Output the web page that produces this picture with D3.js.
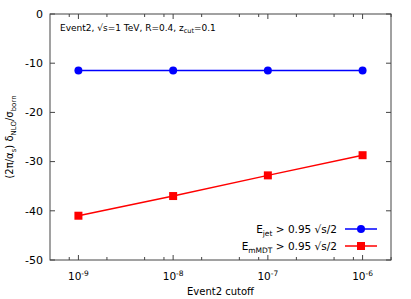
<!DOCTYPE html>
<html>
<head>
<meta charset="utf-8">
<script src="https://cdn.jsdelivr.net/npm/d3@7"></script>
<style>
  body { margin: 0; background: #fff; }
  text { font-family: "DejaVu Sans", sans-serif; fill: #000; }
</style>
</head>
<body>
<script>
// data
var cutoffs = [1e-9, 1e-8, 1e-7, 1e-6];
var ejet = [-11.5, -11.5, -11.5, -11.5];
var emmdt = [-41.0, -37.0, -32.8, -28.7];
var yTicks = [0, -10, -20, -30, -40, -50];
var xMajor = [1e-9, 1e-8, 1e-7, 1e-6];
var xMinor = [8e-10, 2e-9, 5e-9, 8e-9, 2e-8, 5e-8, 8e-8, 2e-7, 5e-7, 8e-7, 2e-6];

var margin = {top: 14, right: 20, bottom: 39, left: 50},
    width = 411 - margin.left - margin.right,
    height = 299 - margin.top - margin.bottom;

var x = d3.scaleLog().domain([Math.pow(10, -9.3), Math.pow(10, -5.7)]).range([0, width]);
var y = d3.scaleLinear().domain([-50, 0]).range([height, 0]);

var svg = d3.select("body").append("svg")
    .attr("width", 411)
    .attr("height", 299)
  .append("g")
    .attr("transform", "translate(" + margin.left + "," + margin.top + ")");

// frame
svg.append("rect")
    .attr("width", width).attr("height", height)
    .attr("fill", "none").attr("stroke", "#444").attr("stroke-width", 1);

// ticks (inward, mirrored)
function tickLines(vals, len, horiz) {
  vals.forEach(function(v) {
    if (horiz) {
      var px = x(v);
      svg.append("line").attr("x1", px).attr("x2", px).attr("y1", height).attr("y2", height - len).attr("stroke", "#444");
      svg.append("line").attr("x1", px).attr("x2", px).attr("y1", 0).attr("y2", len).attr("stroke", "#444");
    } else {
      var py = y(v);
      svg.append("line").attr("x1", 0).attr("x2", len).attr("y1", py).attr("y2", py).attr("stroke", "#444");
      svg.append("line").attr("x1", width).attr("x2", width - len).attr("y1", py).attr("y2", py).attr("stroke", "#444");
    }
  });
}
tickLines(xMajor, 5, true);
tickLines(xMinor, 3, true);
tickLines(yTicks, 5, false);

// y tick labels
svg.selectAll(".ylab").data(yTicks).enter().append("text")
    .attr("x", -7).attr("y", function(d) { return y(d); })
    .attr("dy", "0.35em").attr("text-anchor", "end")
    .style("font-size", "11px")
    .text(function(d) { return d; });

// x tick labels 10^n
xMajor.forEach(function(v) {
  var t = svg.append("text")
      .attr("x", x(v)).attr("y", height + 20)
      .attr("text-anchor", "middle")
      .style("font-size", "10.5px");
  t.append("tspan").text("10");
  t.append("tspan").attr("dy", "-4").style("font-size", "7.5px").text(Math.round(Math.log10(v)));
});

// axis labels
svg.append("text")
    .attr("x", width / 2).attr("y", height + 35)
    .attr("text-anchor", "middle").style("font-size", "10px")
    .text("Event2 cutoff");

var yl = svg.append("text")
    .attr("transform", "translate(" + (-37) + "," + (height / 2) + ") rotate(-90)")
    .attr("text-anchor", "middle").style("font-size", "10px");
yl.append("tspan").text("(2π/α");
yl.append("tspan").attr("dy", 3).style("font-size", "7px").text("s");
yl.append("tspan").attr("dy", -3).text(") δ");
yl.append("tspan").attr("dy", 3).style("font-size", "7px").text("NLO");
yl.append("tspan").attr("dy", -3).text("/σ");
yl.append("tspan").attr("dy", 3).style("font-size", "7px").text("born");

// annotation
var ann = svg.append("text")
    .attr("x", 10).attr("y", 17).style("font-size", "9px");
ann.append("tspan").text("Event2, √s=1 TeV, R=0.4, z");
ann.append("tspan").attr("dy", 2).style("font-size", "6.5px").text("cut");
ann.append("tspan").attr("dy", -2).text("=0.1");

var line = d3.line()
    .x(function(d, i) { return x(cutoffs[i]); })
    .y(function(d) { return y(d); });

// blue series
svg.append("path").datum(ejet)
    .attr("fill", "none").attr("stroke", "#0000ff").attr("stroke-width", 1.5)
    .attr("d", line);
svg.selectAll(".bdot").data(ejet).enter().append("circle")
    .attr("cx", function(d, i) { return x(cutoffs[i]); })
    .attr("cy", function(d) { return y(d); })
    .attr("r", 4).attr("fill", "#0000ff");

// red series
svg.append("path").datum(emmdt)
    .attr("fill", "none").attr("stroke", "#ff0000").attr("stroke-width", 1.5)
    .attr("d", line);
svg.selectAll(".rsq").data(emmdt).enter().append("rect")
    .attr("x", function(d, i) { return x(cutoffs[i]) - 4; })
    .attr("y", function(d) { return y(d) - 4; })
    .attr("width", 8).attr("height", 8).attr("fill", "#ff0000");

// legend
var legend = [
  {main: "E", sub: "jet", rest: " > 0.95 √s/2", color: "#0000ff", shape: "circle"},
  {main: "E", sub: "mMDT", rest: " > 0.95 √s/2", color: "#ff0000", shape: "square"}
];
legend.forEach(function(l, i) {
  var ly = 229 - margin.top + i * 17;
  var t = svg.append("text")
      .attr("x", 337 - margin.left).attr("y", ly)
      .attr("dy", "0.35em").attr("text-anchor", "end").style("font-size", "10.5px");
  t.append("tspan").text(l.main);
  t.append("tspan").attr("dy", 3).style("font-size", "7.5px").text(l.sub);
  t.append("tspan").attr("dy", -3).text(l.rest);
  svg.append("line")
      .attr("x1", 345 - margin.left).attr("x2", 377 - margin.left)
      .attr("y1", ly).attr("y2", ly)
      .attr("stroke", l.color).attr("stroke-width", 1.5);
  if (l.shape === "circle") {
    svg.append("circle").attr("cx", 361 - margin.left).attr("cy", ly).attr("r", 4).attr("fill", l.color);
  } else {
    svg.append("rect").attr("x", 357 - margin.left).attr("y", ly - 4).attr("width", 8).attr("height", 8).attr("fill", l.color);
  }
});
</script>
</body>
</html>
